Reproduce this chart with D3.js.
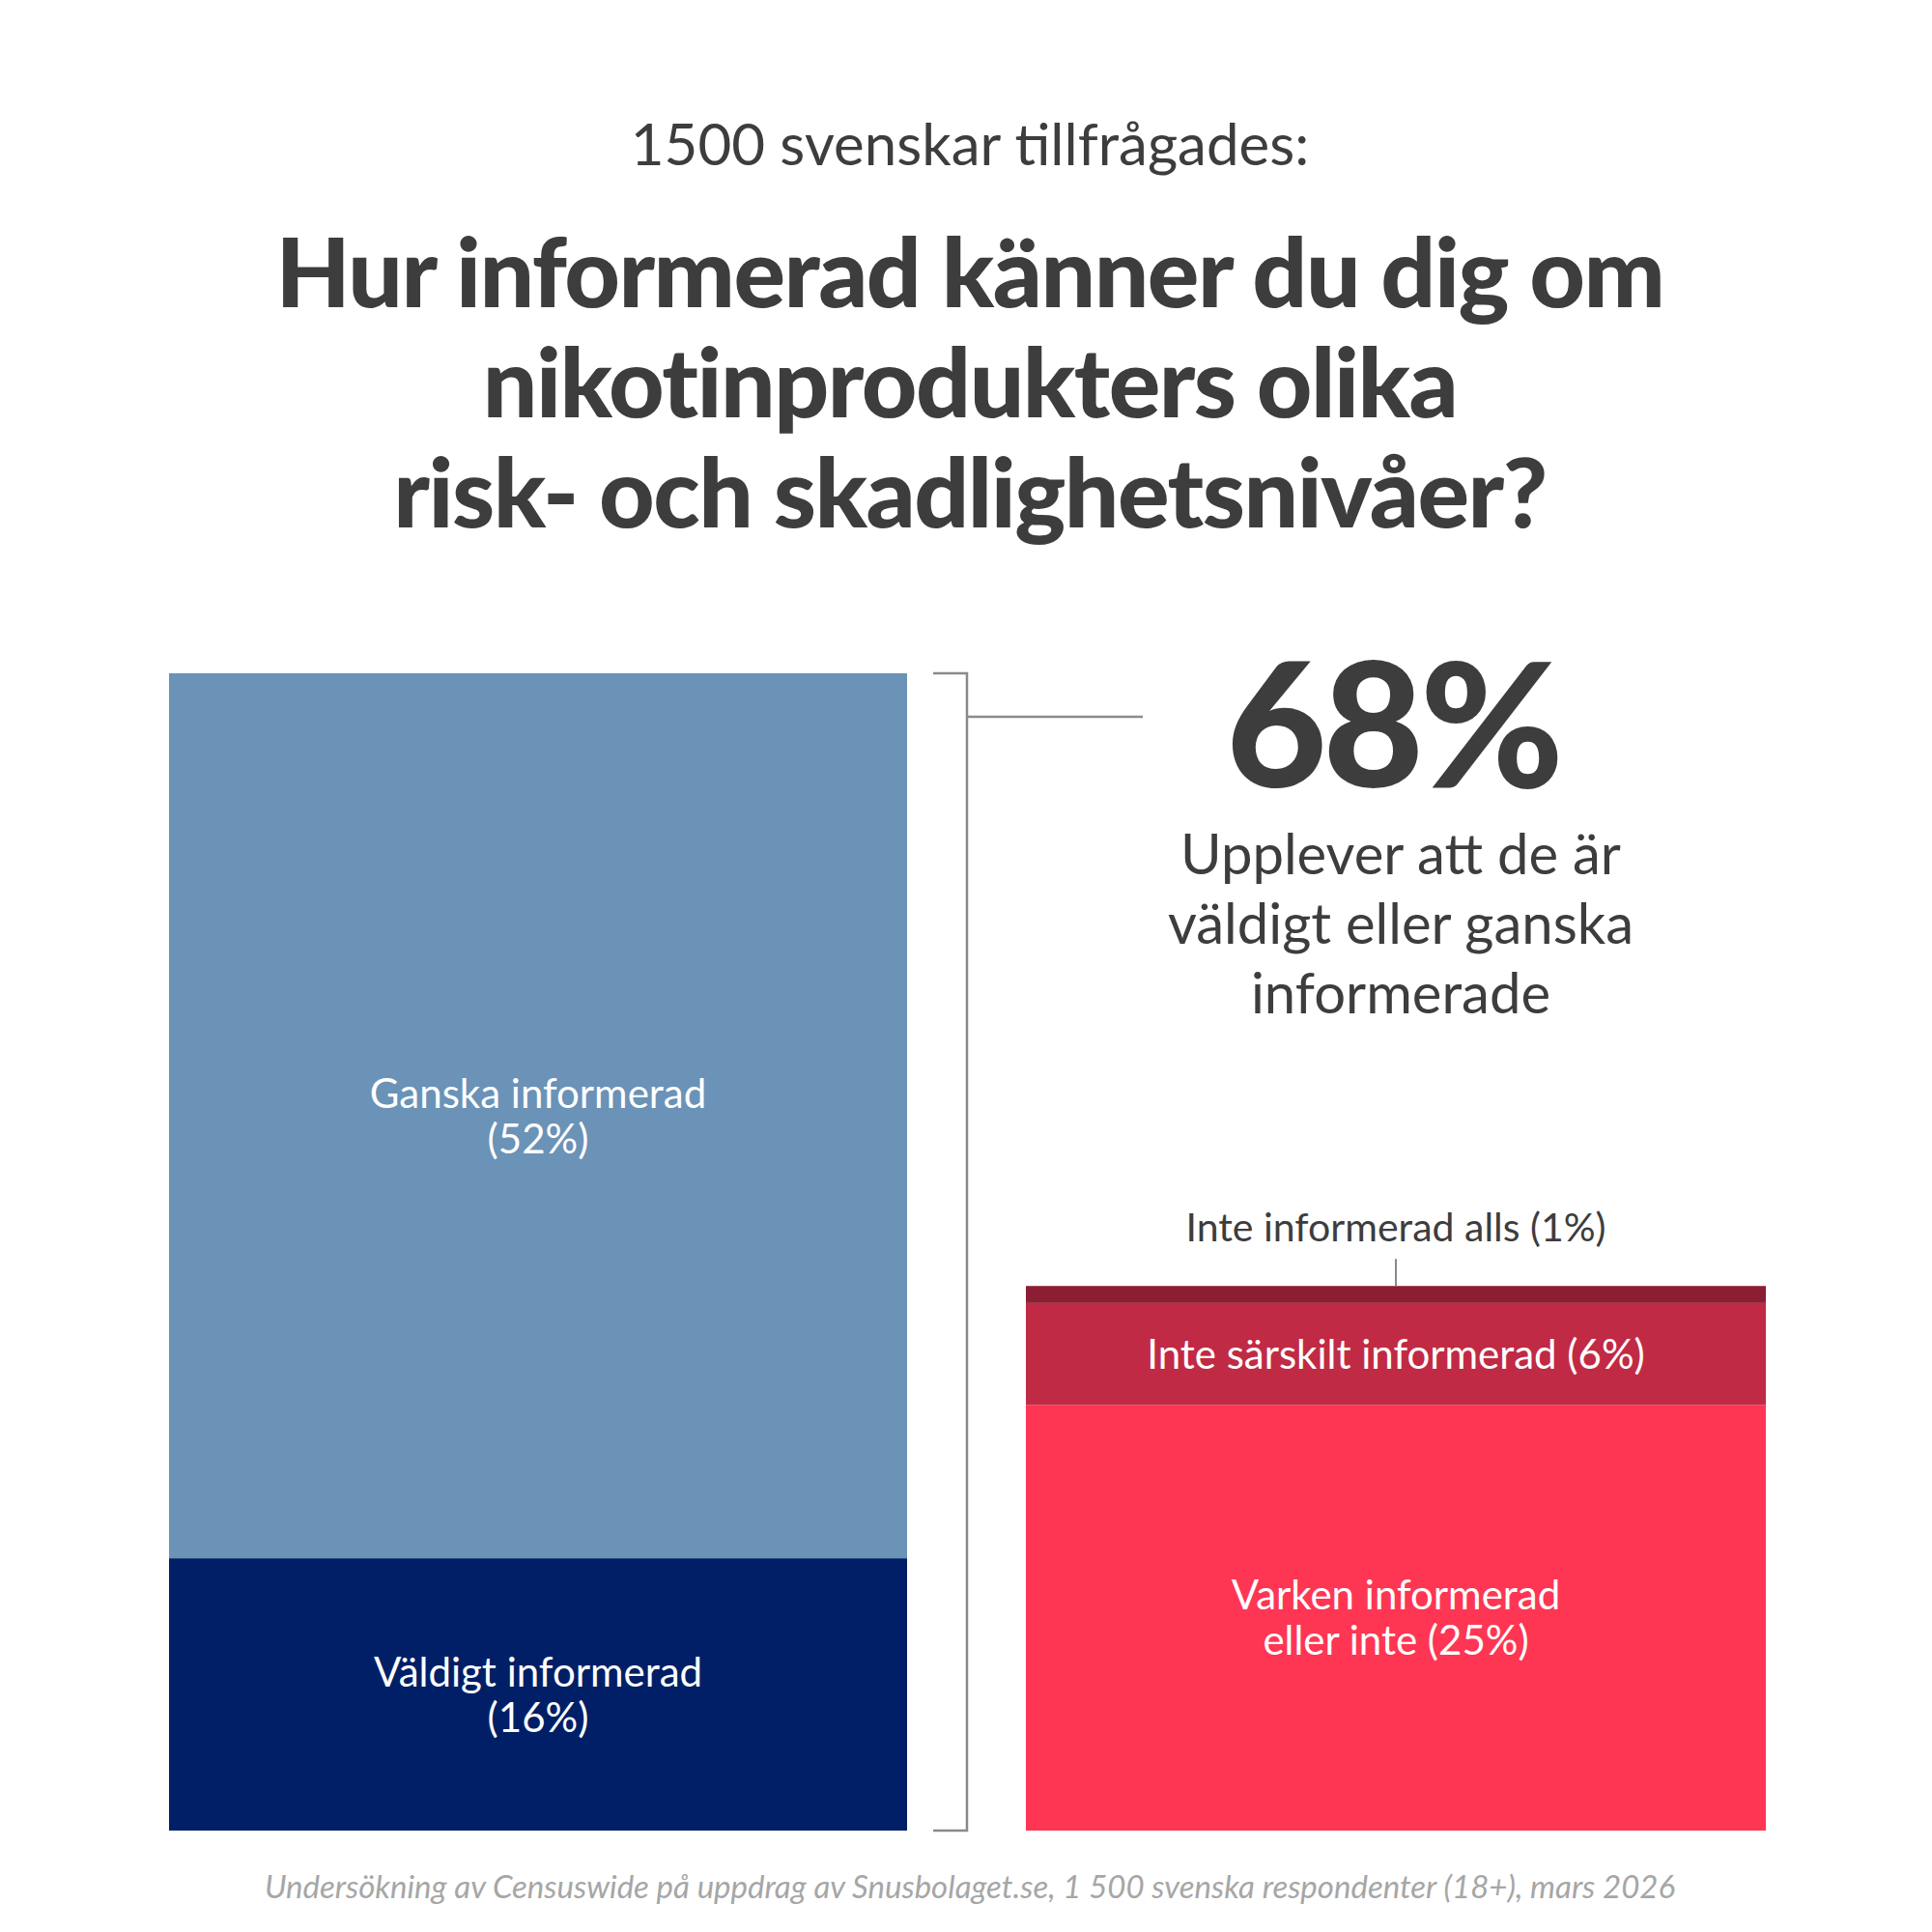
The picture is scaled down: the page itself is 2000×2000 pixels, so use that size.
<!DOCTYPE html>
<html>
<head>
<meta charset="utf-8">
<script src="https://cdn.jsdelivr.net/npm/d3@7.9.0/dist/d3.min.js"></script>
<style>
  body { margin: 0; background: #fff; }
  text { font-family: Lato, "Noto Sans", sans-serif; }
</style>
</head>
<body>
<svg id="chart" width="2000" height="2000"></svg>
<script>
// Survey answers, percent
const informed = [
  { label: ['Väldigt informerad', '(16%)'], value: 16, color: '#001f66' },
  { label: ['Ganska informerad', '(52%)'], value: 52, color: '#6b92b7' },
];
const notInformed = [
  { label: ['Varken informerad', 'eller inte (25%)'], value: 25, color: '#fe3653' },
  { label: ['Inte särskilt informerad (6%)'], value: 6, color: '#c12a44' },
  { label: [], value: 1, color: '#8b1e33' },
];
const titleLines = ['Hur informerad känner du dig om', 'nikotinprodukters olika', 'risk- och skadlighetsnivåer?'];
const calloutLines = ['Upplever att de är', 'väldigt eller ganska', 'informerade'];
const total = d3.sum(informed, d => d.value);

const svg = d3.select('#chart');
const ink = '#3d3d3d';

svg.append('text').attr('x', 1004).attr('y', 171).attr('text-anchor', 'middle')
  .attr('font-size', 60).attr('fill', ink).text('1500 svenskar tillfrågades:');

svg.selectAll('.title').data(titleLines).enter().append('text')
  .attr('x', 1004).attr('y', (d, i) => 318 + i * 114).attr('text-anchor', 'middle')
  .attr('font-size', 100).attr('font-weight', 900).attr('fill', ink).attr('letter-spacing', -1.5)
  .text(d => d);

const y = d3.scaleLinear().domain([0, 68]).range([1895, 697]);

function stack(data, x0, x1, labelSize) {
  let acc = 0;
  data.forEach(d => { d.y0 = acc; acc += d.value; d.y1 = acc; });
  const g = svg.append('g');
  g.selectAll('rect').data(data).enter().append('rect')
    .attr('x', x0).attr('width', x1 - x0)
    .attr('y', d => y(d.y1)).attr('height', d => y(d.y0) - y(d.y1))
    .attr('fill', d => d.color);
  data.forEach(d => {
    const mid = (y(d.y0) + y(d.y1)) / 2;
    const n = d.label.length;
    d.label.forEach((line, i) => {
      g.append('text').attr('x', (x0 + x1) / 2)
        .attr('y', mid + 15 + (i - (n - 1) / 2) * 47)
        .attr('text-anchor', 'middle').attr('font-size', labelSize).attr('fill', '#fff')
        .text(line);
    });
  });
}
stack(informed, 175, 939, 42);
stack(notInformed, 1062, 1828, 42);

// bracket
const topY = y(total), botY = y(0);
svg.append('path')
  .attr('d', `M966,${topY}H1001V${botY}H966 M1001,${topY + 45}H1183`)
  .attr('fill', 'none').attr('stroke', '#8a8a8a').attr('stroke-width', 2.5);

svg.append('text').attr('x', 1442).attr('y', 815).attr('text-anchor', 'middle')
  .attr('font-size', 180).attr('font-weight', 900).attr('fill', ink).attr('letter-spacing', -4)
  .text(total + '%');
svg.selectAll('.call').data(calloutLines).enter().append('text')
  .attr('x', 1450).attr('y', (d, i) => 905 + i * 72).attr('text-anchor', 'middle')
  .attr('font-size', 58).attr('fill', ink).text(d => d);

// 1% annotation
const topRight = y(d3.sum(notInformed, d => d.value));
svg.append('line').attr('x1', 1445).attr('x2', 1445).attr('y1', topRight - 28).attr('y2', topRight)
  .attr('stroke', '#8a8a8a').attr('stroke-width', 2);
svg.append('text').attr('x', 1445).attr('y', topRight - 46).attr('text-anchor', 'middle')
  .attr('font-size', 41).attr('fill', ink).text('Inte informerad alls (1%)');

svg.append('text').attr('x', 1004).attr('y', 1965).attr('text-anchor', 'middle')
  .attr('font-size', 33).attr('font-style', 'italic').attr('fill', '#a6a6a6')
  .text('Undersökning av Censuswide på uppdrag av Snusbolaget.se, 1 500 svenska respondenter (18+), mars 2026');
</script>
</body>
</html>
